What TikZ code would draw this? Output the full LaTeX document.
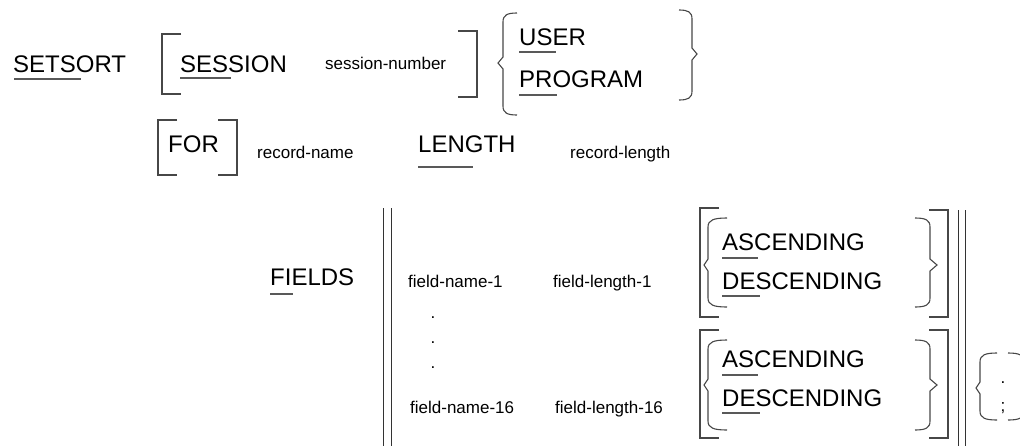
\documentclass[tikz,border=0pt]{standalone}
\usepackage{fontspec}
\setmainfont{Liberation Sans}
\newcommand\SynLBrk[3]{\draw[brk] (#1+19,#2) -- (#1,#2) -- (#1,#3) -- (#1+19,#3);}
\newcommand\SynRBrk[3]{\draw[brk] (#1-19,#2) -- (#1,#2) -- (#1,#3) -- (#1-19,#3);}
% x of vertical, top, bottom, tip y, curl width (signed), tip offset (signed)
\newcommand\SynBrace[6]{\draw[brk] (#1+#5,#2) .. controls (#1+0.3*#5,#2) and (#1,#2+2) .. (#1,#2+9) -- (#1,#4-6) -- (#1-#6,#4) -- (#1,#4+6) -- (#1,#3-9) .. controls (#1,#3-2) and (#1+0.3*#5,#3) .. (#1+#5,#3);}
\begin{document}
\begin{tikzpicture}[x=1pt,y=-1pt,
  big/.style={font=\fontsize{24}{28}\selectfont, inner sep=0pt, anchor=base west},
  small/.style={font=\fontsize{17}{20}\selectfont, inner sep=0pt, anchor=base west},
  ul/.style={draw=black!65, line width=1.1pt},
  brk/.style={draw=black!72, line width=1.1pt},
  bar/.style={draw=black!80, line width=1pt}]
\useasboundingbox (0,0) rectangle (1020,445);

% ---------- row 1 ----------
\node[big] (setsort) at (13,72) {SETSORT};
\draw[ul] (14,79) -- (81,79);
\SynLBrk{162}{34}{94}
\node[big] (session) at (180,72) {SESSION};
\draw[ul] (180,78) -- (231,78);
\node[small] (sessnum) at (325,69) {session-number};
\SynRBrk{477}{31}{97}
\SynBrace{503}{13}{115}{63}{14}{5}
\node[big] (user) at (519,45) {USER};
\draw[ul] (519,52) -- (556,52);
\node[big] (program) at (519,87) {PROGRAM};
\draw[ul] (519,95) -- (557,95);
\SynBrace{692}{10}{100}{54}{-13}{-5}

% ---------- row 2 ----------
\SynLBrk{158}{120}{175}
\node[big] (for) at (168,152) {FOR};
\SynRBrk{237}{120}{175}
\node[small] (recname) at (257,158) {record-name};
\node[big] (length) at (418,152) {LENGTH};
\draw[ul] (418,167) -- (473,167);
\node[small] (reclen) at (570,158) {record-length};

% ---------- fields block ----------
\node[big] (fields) at (270,285) {FIELDS};
\draw[ul] (270,294) -- (293,294);
\draw[bar] (383,208) -- (383,450);
\draw[bar] (391,208) -- (391,450);

\node[small] (fn1) at (408,287) {field-name-1};
\node[small] (fl1) at (553,287) {field-length-1};
\node[small, anchor=base] (d1) at (433,318) {.};
\node[small, anchor=base] (d2) at (433,343) {.};
\node[small, anchor=base] (d3) at (433,368) {.};
\node[small] (fn16) at (410,413) {field-name-16};
\node[small] (fl16) at (555,413) {field-length-16};

% group 1
\SynLBrk{700}{208}{317}
\SynBrace{708}{218}{307}{265}{19}{4}
\node[big] (asc1) at (722,250) {ASCENDING};
\draw[ul] (722,258) -- (758,258);
\node[big] (desc1) at (722,289) {DESCENDING};
\draw[ul] (722,296) -- (760,296);
\SynBrace{930}{218}{307}{265}{-15}{-7}
\SynRBrk{948}{210}{317}

% group 2
\SynLBrk{700}{330}{438}
\SynBrace{708}{340}{430}{385}{19}{4}
\node[big] (asc2) at (722,367) {ASCENDING};
\draw[ul] (722,375) -- (758,375);
\node[big] (desc2) at (722,406) {DESCENDING};
\draw[ul] (722,413) -- (760,413);
\SynBrace{930}{340}{430}{385}{-15}{-7}
\SynRBrk{948}{330}{438}

\draw[bar] (958,210) -- (958,450);
\draw[bar] (965,210) -- (965,450);

% terminator
\SynBrace{980}{353}{420}{388}{17}{4}
\node[small, anchor=base] (dot) at (1003,383) {.};
\node[small, anchor=base] (semi) at (1003,411) {;};
\SynBrace{1024}{353}{420}{388}{-16}{-4}
\end{tikzpicture}
\end{document}
